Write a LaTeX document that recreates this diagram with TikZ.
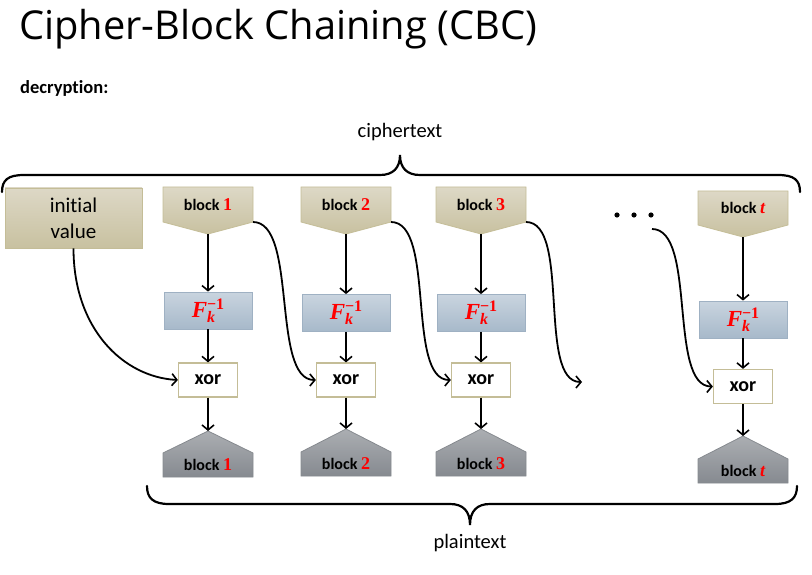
\documentclass[tikz,border=0pt]{standalone}
\usepackage{fontspec}
\setmainfont{Carlito}[Ligatures=NoCommon]
\newfontfamily\titlefont{Open Sans}
\newfontfamily\serifnum{Liberation Serif}
\usetikzlibrary{arrows.meta}

\definecolor{tanT}{HTML}{DDD8C6}
\definecolor{tanB}{HTML}{C8C1A0}
\definecolor{tanE}{HTML}{C4BD97}
\definecolor{bluT}{HTML}{C9D4DF}
\definecolor{bluB}{HTML}{A7B9CA}
\definecolor{bluE}{HTML}{9FB1C3}
\definecolor{gryT}{HTML}{ABAEB2}
\definecolor{gryB}{HTML}{868A90}
\definecolor{gryE}{HTML}{868A8F}

\newcommand\rn[1]{\textcolor{red}{\serifnum\bfseries\fontsize{18}{18}\selectfont #1}}
\newcommand\rt{\textcolor{red}{\serifnum\bfseries\itshape\fontsize{18}{18}\selectfont t}}
\newcommand\finv{\textcolor{red}{\serifnum\bfseries\itshape\fontsize{23}{23}\selectfont F\rlap{\raisebox{-5pt}{\fontsize{16}{16}\selectfont k}}\raisebox{8pt}{\upshape\fontsize{16}{16}\selectfont −1}}}

\tikzset{
  lbl/.style={font=\fontsize{16}{18}\selectfont\bfseries, inner sep=0pt},
  fbox/.style={draw=bluE, line width=0.8pt, top color=bluT, bottom color=bluB,
               minimum width=88pt, minimum height=37pt, inner sep=0pt},
  xorbox/.style={draw=tanE, line width=1.2pt, fill=white, minimum width=59pt,
               minimum height=34pt, inner sep=0pt, font=\fontsize{20}{22}\selectfont\bfseries},
  ivbox/.style={draw=tanE, line width=0.8pt, top color=tanT, bottom color=tanB,
               minimum width=137pt, minimum height=60pt, inner sep=0pt, align=center,
               font=\fontsize{21}{26}\selectfont},
  arr/.style={line width=1.8pt, -{Straight Barb[length=5pt,width=12pt,line width=1.6pt]}},
  bracestyle/.style={line width=2.2pt, line cap=round},
  topshape/.style={draw=tanE, line width=0.8pt, top color=tanT, bottom color=tanB},
  botshape/.style={draw=gryE, line width=0.8pt, top color=gryT, bottom color=gryB},
  plain/.style={inner sep=0pt},
}

% name, cx, top, shoulder, tip, text
\newcommand\topblk[6]{%
  \path[topshape] (#2-45,#3) -- (#2+45,#3) -- (#2+45,#4) -- (#2,#5) -- (#2-45,#4) -- cycle;
  \node[lbl] (#1) at (#2,{(#3+#4)/2}) {#6};
  \coordinate (#1-r) at (#2+45,#4);
  \coordinate (#1-tip) at (#2,#5);
}
% name, cx, tip, shoulder, bottom, text
\newcommand\botblk[6]{%
  \path[botshape] (#2,#3) -- (#2+45,#4) -- (#2+45,#5) -- (#2-45,#5) -- (#2-45,#4) -- cycle;
  \node[lbl] (#1) at (#2,{(#4+#5)/2}) {#6};
  \coordinate (#1-tip) at (#2,#3);
}

\begin{document}
\begin{tikzpicture}[x=1pt,y=-1pt]
\useasboundingbox (0,0) rectangle (812,575);

% titles
\node[plain, anchor=base west, font=\titlefont\fontsize{39.8}{41}\selectfont] (title) at (19,40) {Cipher-Block Chaining (CBC)};
\node[plain, anchor=base west, font=\fontsize{18.5}{20}\selectfont\bfseries] (dec) at (20,94) {decryption:};
\node[plain, anchor=base, font=\fontsize{20.5}{22}\selectfont] (ct) at (400,138) {ciphertext};
\node[plain, anchor=base, font=\fontsize{20.5}{22}\selectfont] (pt) at (470,548) {plaintext};

% braces
\draw[bracestyle] (2,192) .. controls (2,180) and (8,175) .. (24,175) -- (380,175)
   .. controls (393,175) and (400,168) .. (400,155)
   .. controls (400,168) and (407,175) .. (420,175) -- (778,175)
   .. controls (794,175) and (800,180) .. (800,192);
\draw[bracestyle] (147,486) .. controls (147,498) and (153,504) .. (169,504) -- (450,504)
   .. controls (463,504) and (470,511) .. (470,525)
   .. controls (470,511) and (477,504) .. (490,504) -- (775,504)
   .. controls (791,504) and (797,498) .. (797,486);

% initial value
\node[ivbox] (iv) at (73.5,218) {initial\\value};

% top blocks
\topblk{c1}{208}{187}{222}{234}{block \rn{1}}
\topblk{c2}{346}{187}{222}{234}{block \rn{2}}
\topblk{c3}{481}{187}{222}{234}{block \rn{3}}
\topblk{ct4}{743}{191}{225}{237}{block \rt}

% dots
\fill (617,215) circle (2.6) (634,215) circle (2.6) (651,215) circle (2.6);
\coordinate (dots) at (652,229);

% F boxes
\node[fbox] (f1) at (208,310.5) {\finv};
\node[fbox] (f2) at (346,313) {\finv};
\node[fbox] (f3) at (481,313) {\finv};
\node[fbox] (f4) at (743,319.5) {\finv};

% xor boxes
\node[xorbox] (x1) at (208,380) {xor};
\node[xorbox] (x2) at (346,380) {xor};
\node[xorbox] (x3) at (481,380) {xor};
\node[xorbox] (x4) at (743,386.5) {xor};

% bottom blocks
\botblk{p1}{208}{431}{453}{477}{block \rn{1}}
\botblk{p2}{346}{429}{452}{476}{block \rn{2}}
\botblk{p3}{481}{429}{452}{476}{block \rn{3}}
\botblk{p4}{743}{436}{459}{483}{block \rt}

\coordinate (free) at (582,382);

% vertical arrows
\foreach \cc/\ff/\xx/\pp in {c1/f1/x1/p1, c2/f2/x2/p2, c3/f3/x3/p3, ct4/f4/x4/p4}{
  \draw[arr] (\cc-tip) -- (\cc-tip |- \ff.north);
  \draw[arr] (\ff.south) -- (\ff.south |- \xx.north);
  \draw[arr] (\xx.south) -- (\xx.south |- \pp-tip);
}

% chaining curves
\draw[arr] (iv.south) .. controls +(0,80) and +(-55,-3) .. (x1.west);
\draw[arr] (c1-r) .. controls +(45,0) and +(-45,0) .. (x2.west);
\draw[arr] (c2-r) .. controls +(45,0) and +(-45,0) .. (x3.west);
\draw[arr] (c3-r) .. controls +(45,0) and +(-45,0) .. (free);
\draw[arr] (dots) .. controls +(45,0) and +(-45,0) .. (x4.west);
\end{tikzpicture}
\end{document}
